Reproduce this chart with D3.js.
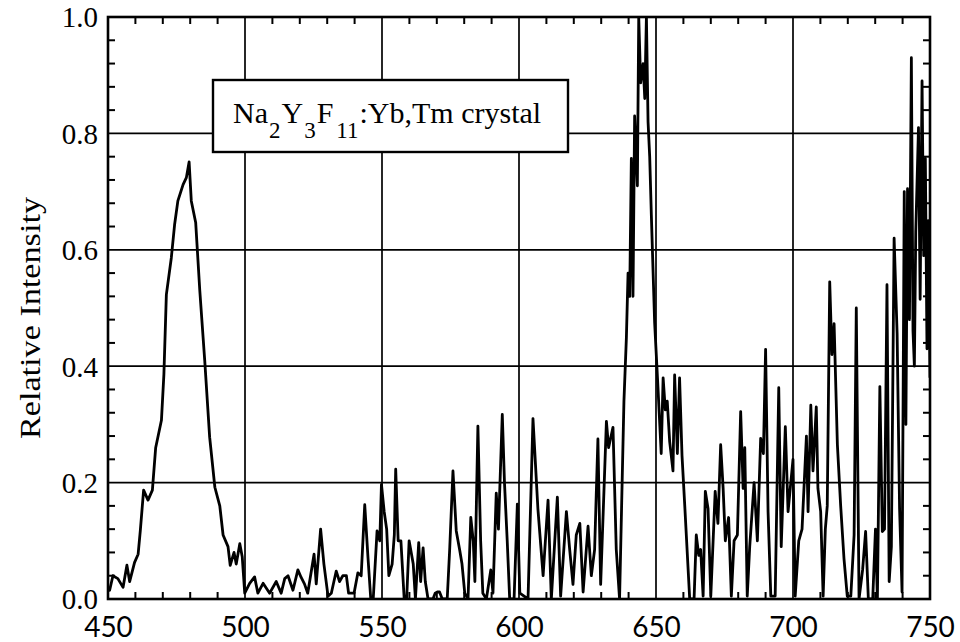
<!DOCTYPE html>
<html>
<head>
<meta charset="utf-8">
<script src="https://cdn.jsdelivr.net/npm/d3@7"></script>
<style>
  body { margin: 0; background: #fff; }
  svg { display: block; }
</style>
</head>
<body>
<div id="chart"></div>
<script>
// emission spectrum (nm, relative intensity)
var wavelength = [
  450.0, 450.6, 451.8, 453.6, 455.5, 456.9, 457.9, 459.7, 461.0, 461.8,
  463.0, 464.6, 466.2, 467.4, 469.5, 470.4, 471.3, 473.1, 474.3, 475.5,
  477.4, 478.6, 479.6, 480.4, 482.0, 483.5, 485.3, 487.1, 489.0, 490.8,
  492.0, 493.8, 494.6, 496.0, 496.8, 498.1, 499.0, 499.9, 501.7, 503.5,
  504.7, 506.6, 509.0, 511.4, 513.2, 514.5, 515.7, 517.5, 519.3,
  520.5, 521.7, 522.9, 525.2, 526.0, 527.6, 528.8, 530.3, 531.5, 533.3,
  534.5, 535.7, 537.0, 537.8, 539.8, 541.2, 542.4, 543.7, 544.9, 545.9,
  546.8, 548.2, 549.2, 549.8, 550.8, 551.7, 552.5, 553.7, 554.5, 555.0,
  555.9, 556.9, 558.1, 559.0, 559.9, 561.4, 562.2, 563.4, 564.1, 565.0,
  565.8, 566.8, 568.6, 569.4, 570.2, 571.0, 572.0, 573.8, 574.7, 575.9,
  577.1, 578.4, 579.2, 580.2, 581.4, 582.4, 583.3, 583.9, 585.0, 586.0,
  586.8, 588.1, 589.7, 590.5, 591.7, 592.5, 593.9, 594.7, 595.7, 596.6,
  598.2, 599.4, 600.3, 603.3, 605.1, 606.9, 608.8, 610.6, 611.8, 614.0,
  615.2, 617.3, 618.5, 619.7, 620.9, 622.2, 623.4, 625.2, 626.4, 627.6,
  628.8, 629.8, 631.9, 632.7, 634.3, 635.5, 636.7, 638.3, 639.2, 639.8,
  640.4, 641.0, 641.6, 642.2, 643.2, 643.7, 644.4, 645.3, 645.9, 646.5,
  647.1, 647.7, 648.3, 649.5, 650.7, 651.9, 652.6, 653.4, 654.1, 655.0,
  656.2, 656.8, 657.8, 658.6, 659.5, 660.5, 662.3, 663.9, 664.7, 665.6,
  666.3, 667.2, 668.0, 669.0, 670.0, 671.6, 672.6, 673.6, 674.5, 675.3,
  676.5, 677.5, 678.5, 679.7, 680.9, 681.8, 682.4, 683.3, 684.2, 685.8,
  687.0, 688.2, 689.2, 690.0, 690.9, 691.9, 693.5, 694.8, 695.7, 697.2,
  698.2, 700.0, 700.8, 702.1, 703.3, 704.9, 705.5, 706.5, 707.3, 708.5,
  709.1, 710.1, 711.0, 711.8, 712.5, 713.4, 714.2, 715.0, 716.2, 717.4,
  718.6, 719.8, 721.1, 722.3, 723.1, 724.1, 725.4, 726.5, 727.5, 729.1,
  730.1, 730.8, 731.7, 732.6, 733.4, 734.3, 735.1, 735.9, 736.9, 738.0,
  738.9, 739.8, 740.6, 741.2, 741.8, 742.5, 743.2, 743.8, 744.3, 744.8,
  745.8, 746.4, 747.1, 747.7, 748.3, 748.9, 749.4, 750.0
];
var intensity = [
  0.020, 0.015, 0.040, 0.035, 0.020, 0.058, 0.030, 0.063, 0.077, 0.118,
  0.187, 0.170, 0.187, 0.260, 0.307, 0.386, 0.523, 0.586, 0.643, 0.684,
  0.712, 0.724, 0.751, 0.684, 0.647, 0.530, 0.410, 0.278, 0.192, 0.160,
  0.110, 0.090, 0.058, 0.080, 0.060, 0.095, 0.072, 0.010, 0.027, 0.038,
  0.010, 0.027, 0.010, 0.030, 0.010, 0.035, 0.040, 0.015, 0.050,
  0.037, 0.026, 0.010, 0.077, 0.026, 0.120, 0.060, 0.005, 0.010, 0.048,
  0.030, 0.040, 0.040, 0.010, 0.010, 0.045, 0.040, 0.162, 0.070, 0.000,
  0.000, 0.117, 0.100, 0.197, 0.150, 0.120, 0.040, 0.060, 0.110, 0.223,
  0.100, 0.100, 0.000, 0.000, 0.100, 0.060, 0.000, 0.097, 0.030, 0.088,
  0.030, 0.000, 0.000, 0.010, 0.012, 0.012, 0.000, 0.000, 0.085, 0.220,
  0.117, 0.083, 0.060, 0.010, 0.000, 0.140, 0.100, 0.030, 0.297, 0.100,
  0.010, 0.000, 0.050, 0.010, 0.182, 0.120, 0.317, 0.200, 0.100, 0.000,
  0.000, 0.163, 0.010, 0.000, 0.310, 0.155, 0.040, 0.170, 0.000, 0.175,
  0.005, 0.150, 0.085, 0.025, 0.110, 0.130, 0.012, 0.125, 0.040, 0.085,
  0.275, 0.025, 0.305, 0.260, 0.295, 0.085, 0.000, 0.340, 0.450, 0.560,
  0.520, 0.757, 0.520, 0.830, 0.710, 1.000, 0.887, 0.920, 0.860, 1.000,
  0.820, 0.760, 0.660, 0.475, 0.365, 0.250, 0.380, 0.325, 0.340, 0.270,
  0.220, 0.385, 0.250, 0.380, 0.246, 0.160, 0.000, 0.000, 0.110, 0.075,
  0.085, 0.005, 0.185, 0.155, 0.005, 0.185, 0.130, 0.265, 0.190, 0.100,
  0.140, 0.005, 0.100, 0.110, 0.322, 0.190, 0.260, 0.005, 0.090, 0.200,
  0.100, 0.276, 0.250, 0.429, 0.150, 0.005, 0.005, 0.363, 0.090, 0.296,
  0.150, 0.240, 0.005, 0.100, 0.120, 0.280, 0.150, 0.333, 0.220, 0.330,
  0.190, 0.150, 0.005, 0.120, 0.160, 0.545, 0.420, 0.473, 0.265, 0.160,
  0.070, 0.005, 0.005, 0.110, 0.500, 0.000, 0.050, 0.116, 0.000, 0.000,
  0.120, 0.000, 0.365, 0.116, 0.120, 0.540, 0.030, 0.090, 0.620, 0.456,
  0.155, 0.012, 0.700, 0.300, 0.705, 0.480, 0.930, 0.460, 0.400, 0.630,
  0.810, 0.515, 0.890, 0.590, 0.757, 0.430, 0.650, 0.380
];

var xTickValues = [450, 500, 550, 600, 650, 700, 750];
var yTickValues = [0.0, 0.2, 0.4, 0.6, 0.8, 1.0];

var svgWidth = 960;
var svgHeight = 642;

var plot = { left: 108, right: 930, top: 17, bottom: 599 };

var svg = d3.select("#chart").append("svg")
  .attr("width", svgWidth)
  .attr("height", svgHeight);

svg.append("rect")
  .attr("width", svgWidth)
  .attr("height", svgHeight)
  .attr("fill", "#fff");

var x = d3.scaleLinear().domain([450, 750]).range([plot.left, plot.right]);
var y = d3.scaleLinear().domain([0, 1]).range([plot.bottom, plot.top]);

// grid lines at the labelled values
svg.append("g").selectAll("line")
  .data(xTickValues.slice(1, -1))
  .enter().append("line")
  .attr("x1", d => x(d)).attr("x2", d => x(d))
  .attr("y1", plot.top).attr("y2", plot.bottom)
  .attr("stroke", "#000").attr("stroke-width", 1.7);

svg.append("g").selectAll("line")
  .data(yTickValues.slice(1, -1))
  .enter().append("line")
  .attr("x1", plot.left).attr("x2", plot.right)
  .attr("y1", d => y(d)).attr("y2", d => y(d))
  .attr("stroke", "#000").attr("stroke-width", 1.7);

// minor inward ticks on all four sides
var xMinor = d3.range(460, 750, 10).filter(d => d % 50 !== 0);
var yMinor = d3.range(0.04, 1.0, 0.04).filter(d => Math.abs(d / 0.2 - Math.round(d / 0.2)) > 0.01);
var tickLen = 7;
var minor = svg.append("g").attr("stroke", "#000").attr("stroke-width", 2);

xMinor.forEach(function(d) {
  minor.append("line").attr("x1", x(d)).attr("x2", x(d))
    .attr("y1", plot.bottom).attr("y2", plot.bottom - tickLen);
  minor.append("line").attr("x1", x(d)).attr("x2", x(d))
    .attr("y1", plot.top).attr("y2", plot.top + tickLen);
});
yMinor.forEach(function(d) {
  minor.append("line").attr("x1", plot.left).attr("x2", plot.left + tickLen)
    .attr("y1", y(d)).attr("y2", y(d));
  minor.append("line").attr("x1", plot.right).attr("x2", plot.right - tickLen)
    .attr("y1", y(d)).attr("y2", y(d));
});

// the spectrum
svg.append("clipPath").attr("id", "plot-clip")
  .append("rect")
  .attr("x", plot.left).attr("y", plot.top)
  .attr("width", plot.right - plot.left)
  .attr("height", plot.bottom - plot.top);

var line = d3.line()
  .x((d, i) => x(wavelength[i]))
  .y(d => y(d));

svg.append("path")
  .datum(intensity)
  .attr("clip-path", "url(#plot-clip)")
  .attr("d", line)
  .attr("fill", "none")
  .attr("stroke", "#000")
  .attr("stroke-width", 2.8)
  .attr("stroke-linejoin", "round");

// frame
svg.append("rect")
  .attr("x", plot.left).attr("y", plot.top)
  .attr("width", plot.right - plot.left)
  .attr("height", plot.bottom - plot.top)
  .attr("fill", "none")
  .attr("stroke", "#000")
  .attr("stroke-width", 2.6);

// tick labels
var xAxis = d3.axisBottom(x).tickValues(xTickValues).tickSize(0).tickPadding(0)
  .tickFormat(d3.format("d"));
var xAxisG = svg.append("g")
  .attr("transform", `translate(0, ${plot.bottom})`)
  .call(xAxis);
xAxisG.select(".domain").remove();
xAxisG.selectAll("text")
  .attr("dy", null)
  .attr("y", 38)
  .attr("fill", "#000")
  .style("font-family", "Lato, 'Open Sans', sans-serif")
  .style("font-size", "28px");

var yAxis = d3.axisLeft(y).tickValues(yTickValues).tickSize(0).tickPadding(10)
  .tickFormat(d3.format(".1f"));
var yAxisG = svg.append("g")
  .attr("transform", `translate(${plot.left}, 0)`)
  .call(yAxis);
yAxisG.select(".domain").remove();
yAxisG.selectAll("text")
  .attr("fill", "#000")
  .attr("dy", "0.34em")
  .style("font-family", "'Liberation Serif', 'Times New Roman', serif")
  .style("font-size", "29px");

// axis title
svg.append("text")
  .attr("transform", "translate(40, 318) rotate(-90)")
  .attr("text-anchor", "middle")
  .attr("textLength", 242)
  .attr("lengthAdjust", "spacingAndGlyphs")
  .style("font-family", "'Liberation Serif', 'Times New Roman', serif")
  .style("font-size", "29px")
  .text("Relative Intensity");

// label box
var box = { x: 213, y: 80, w: 355, h: 72 };
svg.append("rect")
  .attr("x", box.x).attr("y", box.y)
  .attr("width", box.w).attr("height", box.h)
  .attr("fill", "#fff")
  .attr("stroke", "#000")
  .attr("stroke-width", 2.4);

var label = svg.append("text")
  .attr("x", box.x + 20)
  .attr("y", box.y + 43)
  .style("font-family", "'Liberation Serif', 'Times New Roman', serif")
  .style("font-size", "30px");
label.append("tspan").text("Na");
label.append("tspan").attr("dy", 15).attr("dx", 1).style("font-size", "23px").text("2");
label.append("tspan").attr("dy", -15).attr("dx", 1).text("Y");
label.append("tspan").attr("dy", 15).attr("dx", 1).style("font-size", "23px").text("3");
label.append("tspan").attr("dy", -15).attr("dx", 1).text("F");
label.append("tspan").attr("dy", 15).attr("dx", 3).style("font-size", "23px").text("11");
label.append("tspan").attr("dy", -15).attr("dx", 1).text(":Yb,Tm crystal");
</script>
</body>
</html>
